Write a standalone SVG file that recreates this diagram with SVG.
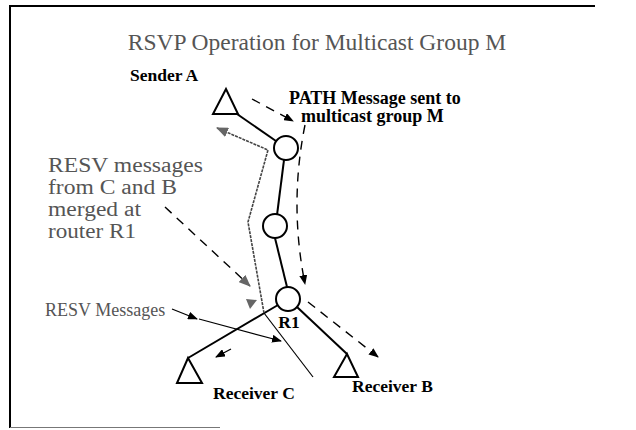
<svg xmlns="http://www.w3.org/2000/svg" width="636" height="430" viewBox="0 0 636 430">
<style>
.serif{font-family:"Liberation Serif","Times New Roman",serif}
.title{font-size:23.5px;fill:#555}
.note{font-size:20.5px;fill:#555}
.small{font-size:18px;fill:#555}
.lbl{font-size:17.5px;font-weight:bold;fill:#000}
.path{font-size:18px;font-weight:bold;fill:#000}
.node{fill:#fff;stroke:#000;stroke-width:2}
.link{stroke:#000;stroke-width:2;fill:none}
.dash{stroke:#000;stroke-width:1.4;fill:none;stroke-dasharray:9 7}
.resv{stroke:#444;stroke-width:1.6;fill:none;stroke-dasharray:3 1}
.thin{stroke:#000;stroke-width:1.2;fill:none}
.frame{stroke:#000;fill:none}
</style>
<defs>
<marker id="ah" viewBox="0 0 10 8" refX="9" refY="4" markerWidth="10" markerHeight="8" markerUnits="userSpaceOnUse" orient="auto">
<path d="M0,0 L10,4 L0,8 z" fill="#000"/>
</marker>
<marker id="gh" viewBox="0 0 12 10" refX="11" refY="5" markerWidth="12" markerHeight="10" markerUnits="userSpaceOnUse" orient="auto">
<path d="M0,0 L12,5 L0,10 z" fill="#666"/>
</marker>
</defs>
<rect width="636" height="430" fill="#fff"/>
<g id="frame">
<line class="frame" x1="10" y1="5" x2="10" y2="428" stroke-width="2"/>
<line class="frame" x1="10" y1="6" x2="595" y2="6" stroke-width="2"/>
<line x1="10" y1="427.5" x2="220" y2="427.5" stroke="#777" stroke-width="1"/>
</g>
<text class="serif title" x="317" y="50" text-anchor="middle">RSVP Operation for Multicast Group M</text>
<g id="connectors">
<line class="link" x1="237" y1="114" x2="276" y2="141"/>
<line class="link" x1="284" y1="160" x2="277" y2="215"/>
<line class="link" x1="275" y1="238" x2="287" y2="287"/>
<line class="link" x1="278" y1="305" x2="188" y2="358"/>
<line class="link" x1="297" y1="307" x2="347" y2="354"/>
<line class="dash" x1="252" y1="99" x2="293" y2="121" marker-end="url(#ah)"/>
<path class="dash" d="M305,125 Q289,204 305,284" marker-end="url(#ah)"/>
<line class="dash" x1="308" y1="302" x2="378" y2="357" marker-end="url(#ah)"/>
<line class="thin" x1="231" y1="349" x2="216" y2="357" marker-end="url(#ah)"/>
<path class="resv" d="M264,313 L248,222 L268,150 L217,128" marker-end="url(#gh)"/>
<line class="thin" x1="264" y1="313" x2="313" y2="377"/>
<line class="dash" x1="165" y1="207" x2="250" y2="286" stroke="#555" stroke-width="1.2" marker-end="url(#gh)"/>
<line class="thin" x1="172" y1="309" x2="197" y2="319" marker-end="url(#ah)"/>
<line class="thin" x1="199" y1="319" x2="281" y2="341" marker-end="url(#ah)"/>
<polygon points="257,300 246,299 250,309" fill="#666"/>
</g>
<g id="sender-a">
<polygon class="node" points="226,89 213,114 238,114"/>
<text class="serif lbl" x="130" y="81">Sender A</text>
</g>
<g id="router-top">
<circle class="node" cx="286" cy="148" r="12"/>
</g>
<g id="router-mid">
<circle class="node" cx="275" cy="226" r="12"/>
</g>
<g id="router-r1">
<circle class="node" cx="288" cy="299" r="12"/>
<text class="serif lbl" x="289" y="328" text-anchor="middle">R1</text>
</g>
<g id="receiver-c">
<polygon class="node" points="188,358 177,383 202,383"/>
<text class="serif lbl" x="213" y="399">Receiver C</text>
</g>
<g id="receiver-b">
<polygon class="node" points="347,354 334,377 358,377"/>
<text class="serif lbl" x="352" y="392">Receiver B</text>
</g>
<g id="labels">
<text class="serif path" x="289" y="104">PATH Message sent to</text>
<text class="serif path" x="301" y="122">multicast group M</text>
<text class="serif note" x="48" y="172" textLength="155" lengthAdjust="spacingAndGlyphs">RESV messages</text>
<text class="serif note" x="48" y="194" textLength="129" lengthAdjust="spacingAndGlyphs">from C and B</text>
<text class="serif note" x="48" y="216" textLength="93" lengthAdjust="spacingAndGlyphs">merged at</text>
<text class="serif note" x="48" y="238" textLength="88" lengthAdjust="spacingAndGlyphs">router R1</text>
<text class="serif small" x="45" y="316">RESV Messages</text>
</g>
</svg>
